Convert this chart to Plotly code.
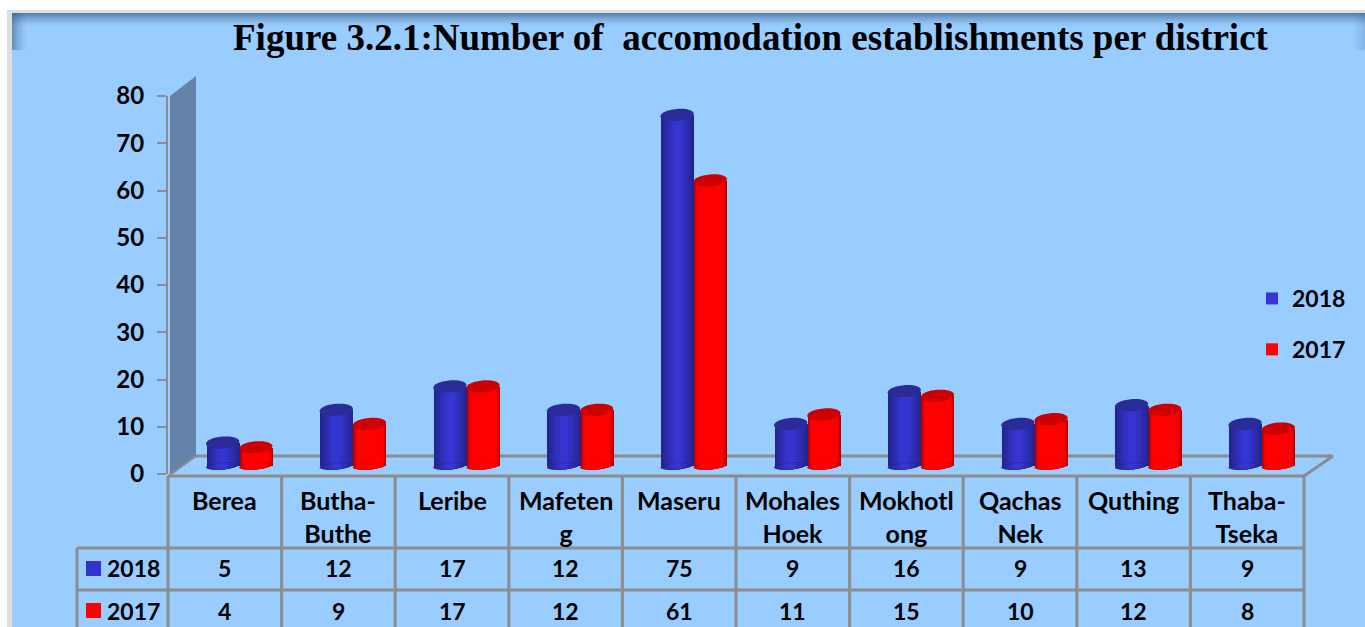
import math
import plotly.graph_objects as go

# ---- data ----
districts = ["Berea", "Butha-<br>Buthe", "Leribe", "Mafeten<br>g", "Maseru",
             "Mohales<br>Hoek", "Mokhotl<br>ong", "Qachas<br>Nek", "Quthing", "Thaba-<br>Tseka"]
values_2018 = [5, 12, 17, 12, 75, 9, 16, 9, 13, 9]
values_2017 = [4, 9, 17, 12, 61, 11, 15, 10, 12, 8]
y_ticks = [0, 10, 20, 30, 40, 50, 60, 70, 80]
title_text = "Figure 3.2.1:Number of\u00a0 accomodation establishments per district"

W, H = 1365, 627
BG = "#99ccff"
LINE = "#8c8c8c"
FONT = "Lato, 'Open Sans', sans-serif"
FS = 23
FS_LABEL = 25
BAR_BASE_PX = 466
BAR_PX_PER_UNIT = 4.68


def px(x):
    return x / W


def py(y):
    return 1 - y / H


idx = list(range(len(districts)))
BAR_W = 0.292
series = [
    ("2018", values_2018, -BAR_W / 2,
     [(1.0, "#23238c"), (0.9, "#27279c"), (0.76, "#2a2aa9"), (0.6, "#2e2eb9"), (0.42, "#3131c4"), (0.26, "#3535d2")],
     "#2a2a99"),
    ("2017", values_2017, BAR_W / 2,
     [(1.0, "#b00000"), (0.94, "#d40000"), (0.86, "#f00000"), (0.76, "#ff0000")], "#cc0000"),
]

fig = go.Figure()
for name, vals, shift, strips, cap in series:
    for k, (f, col) in enumerate(strips):
        fig.add_trace(go.Bar(
            x=idx, y=vals, name=name, xaxis="x2", yaxis="y2",
            width=BAR_W * f, offset=shift - BAR_W * f / 2 + 0.008,
            marker=dict(color=col, line=dict(width=0)),
            showlegend=(k == len(strips) - 1), legendgroup=name,
            hoverinfo="x+y",
        ))

shapes = []


def rect(x0, y0, x1, y1, color, opacity=1.0):
    shapes.append(dict(type="rect", xref="paper", yref="paper", layer="below",
                       x0=px(x0), x1=px(x1), y0=py(y0), y1=py(y1),
                       fillcolor=color, opacity=opacity, line=dict(width=0)))


def seg(x0, y0, x1, y1, width=2, layer="above"):
    shapes.append(dict(type="line", xref="paper", yref="paper", layer=layer,
                       x0=px(x0), x1=px(x1), y0=py(y0), y1=py(y1),
                       line=dict(color=LINE, width=width)))


def ellipse_path(a, b, tilt):
    """Tilted ellipse centred on the anchor, in pixels, as four Bezier arcs."""
    k = 0.5523
    c, s = math.cos(tilt), math.sin(tilt)

    def p(u, v):
        return f"{u * c - v * s:.2f},{u * s + v * c:.2f}"
    return (f"M{p(a, 0)} C{p(a, k * b)} {p(k * a, b)} {p(0, b)} "
            f"C{p(-k * a, b)} {p(-a, k * b)} {p(-a, 0)} "
            f"C{p(-a, -k * b)} {p(-k * a, -b)} {p(0, -b)} "
            f"C{p(k * a, -b)} {p(a, -k * b)} {p(a, 0)} Z")


def cap_shape(xc, yv, path, color):
    shapes.append(dict(type="path", xref="x2", yref="y2", layer="above",
                       xsizemode="pixel", ysizemode="pixel",
                       xanchor=xc, yanchor=yv, path=path,
                       fillcolor=color, line=dict(width=0)))


# page, frame and shading
rect(7, 10, W, H, "#dedede")
rect(12, 13, W, H, BG)
for i in range(14):
    rect(12, 13 + i, W, 14 + i, "#2f5478", 0.62 * (1 - i / 14) ** 1.6)
for i in range(16):
    rect(12 + i, 13, 13 + i, 50, "#2f5478", 0.5 * (1 - i / 16) ** 1.6)
for i in range(12):
    rect(W - 1 - i, 13, W - i, 50, "#2f5478", 0.18 * (1 - i / 12))

# 3-D wall and floor
shapes.append(dict(type="path", xref="paper", yref="paper", layer="below",
                   path=f"M{px(170)},{py(96)} L{px(196)},{py(76)} L{px(196)},{py(456)} L{px(170)},{py(475)} Z",
                   fillcolor="#6583a8", line=dict(width=0)))
seg(196, 456, 1333, 456, 3, layer="below")
seg(1333, 456, 1304, 476, 3, layer="below")
seg(170, 475, 196, 456, 2, layer="below")
seg(168, 476, 1304, 476, 3)

# table grid
for i in range(11):
    seg(168 + i * 113.6, 476, 168 + i * 113.6, H, 3)
seg(77, 548, 1304, 548, 3)
seg(77, 590, 1304, 590, 3)
seg(77, 548, 77, H, 3)

# cylinder ends, computed from the same values as the bars
A, B_TOP, B_BASE = 16.7, 6, 3.5
TILT = math.radians(5)
for name, vals, shift, strips, cap in series:
    for i, v in zip(idx, vals):
        for f, col in strips:
            cap_shape(i + shift + 0.004, 0, ellipse_path(A * f, B_BASE, TILT), col)
for name, vals, shift, strips, cap in series:
    for i, v in zip(idx, vals):
        cap_shape(i + shift + 0.004, v, ellipse_path(A, B_TOP, TILT), cap)

# table keys
rect(86, 561, 101, 576, "#3333cc")
rect(86, 603, 101, 618, "#ff0000")

ann = [dict(text=f"<b>{title_text}</b>", xref="paper", yref="paper", x=px(751), y=py(38),
            xanchor="center", yanchor="middle", showarrow=False,
            font=dict(family="'Liberation Serif', serif", size=37, color="black"))]
for i, d in enumerate(districts):
    ann.append(dict(text=f"<b>{d}</b>", xref="x", yref="paper", x=i, y=py(483),
                    xanchor="center", yanchor="top", showarrow=False, align="center",
                    font=dict(family=FONT, size=FS_LABEL, color="black")))
    ann.append(dict(text=f"<b>{values_2018[i]}</b>", xref="x", yref="paper", x=i, y=py(568),
                    xanchor="center", yanchor="middle", showarrow=False,
                    font=dict(family=FONT, size=FS, color="black")))
    ann.append(dict(text=f"<b>{values_2017[i]}</b>", xref="x", yref="paper", x=i, y=py(611),
                    xanchor="center", yanchor="middle", showarrow=False,
                    font=dict(family=FONT, size=FS, color="black")))
for label, yy in (("2018", 568), ("2017", 611)):
    ann.append(dict(text=f"<b>{label}</b>", xref="paper", yref="paper", x=px(105), y=py(yy),
                    xanchor="left", yanchor="middle", showarrow=False,
                    font=dict(family=FONT, size=FS, color="black")))

hidden = dict(visible=False, fixedrange=True, automargin=False)
BELOW = 4  # value units kept below zero so the lower cylinder ends are not clipped
fig.update_layout(
    width=W, height=H, margin=dict(l=0, r=0, t=0, b=0, pad=0),
    paper_bgcolor="white", plot_bgcolor="rgba(0,0,0,0)",
    barmode="overlay", bargap=0,
    font=dict(family=FONT, size=FS, color="black"),
    showlegend=True,
    legend=dict(x=px(1252), y=py(277), xanchor="left", yanchor="top",
                bgcolor="rgba(0,0,0,0)", borderwidth=0, traceorder="grouped",
                tracegroupgap=18, font=dict(family=FONT, size=FS, weight="bold", color="black")),
    xaxis=dict(domain=[px(168), px(1304)], range=[-0.5, 9.5], anchor="y", **hidden),
    yaxis=dict(domain=[py(474), py(96)], range=[0, 80], anchor="x", fixedrange=True, automargin=False,
               tickvals=y_ticks, ticks="outside", ticklen=9, tickwidth=2, tickcolor=LINE,
               showgrid=False, zeroline=False, showline=True, linecolor=LINE, linewidth=2,
               ticklabelstandoff=8,
               tickfont=dict(family=FONT, size=24, weight="bold", color="black")),
    xaxis2=dict(domain=[px(182), px(1318)], range=[-0.5, 9.5], anchor="y2", **hidden),
    yaxis2=dict(domain=[py(BAR_BASE_PX + BELOW * BAR_PX_PER_UNIT), py(BAR_BASE_PX - 80 * BAR_PX_PER_UNIT)],
                range=[-BELOW, 80], anchor="x2", **hidden),
    shapes=shapes, annotations=ann,
)
fig.update_xaxes(showgrid=False, zeroline=False)

fig.write_html("out.html", config=dict(displayModeBar=False),
               post_script="document.body.style.margin='0';document.body.style.overflow='hidden';")
